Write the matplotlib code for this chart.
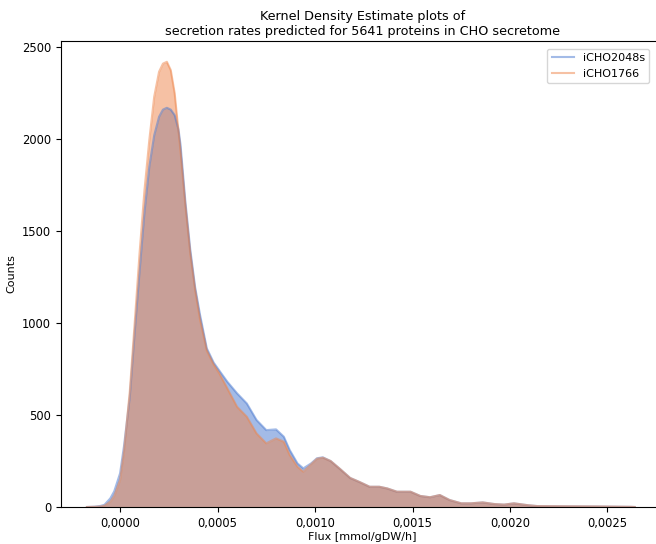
import numpy as np
import matplotlib.pyplot as plt
from matplotlib.ticker import FuncFormatter

# KDE curves (flux in mmol/gDW/h, density in counts)
flux = [-0.00017, -0.00013, -0.00010, -0.00008, -0.00005, -0.00003, 0.0, 0.00002,
        0.00005, 0.000075, 0.00010, 0.000125, 0.00015, 0.000175, 0.00020, 0.00022,
        0.00024, 0.00026, 0.00028, 0.00030, 0.00031, 0.000335, 0.00036, 0.000385,
        0.00041, 0.000445, 0.00048, 0.00051, 0.00055, 0.00060, 0.00065, 0.00070,
        0.00075, 0.00080, 0.00084, 0.00087, 0.00091, 0.00094, 0.00098, 0.00101,
        0.00104, 0.00108, 0.00113, 0.00118, 0.00123, 0.00128, 0.00133, 0.00137,
        0.00142, 0.00149, 0.00154, 0.00159, 0.00164, 0.00169, 0.00175, 0.00180,
        0.00186, 0.00192, 0.00197, 0.00202, 0.00209, 0.00214, 0.00228, 0.00245,
        0.00262, 0.00264]

kde_2048s = [0, 2, 6, 12, 47, 85, 183, 330,
             600, 950, 1280, 1600, 1850, 2020, 2121, 2160,
             2170, 2160, 2130, 2050, 1970, 1660, 1400, 1195,
             1045, 862, 785, 740, 681, 618, 563, 473,
             418, 422, 382, 310, 237, 210, 237, 265,
             270, 250, 205, 158, 135, 110, 110, 101,
             83, 83, 60, 53, 65, 38, 20, 20,
             25, 16, 13, 20, 10, 5, 4, 3,
             1, 0]

kde_1766 = [0, 1, 3, 7, 29, 60, 147, 300,
            630, 1000, 1380, 1720, 1995, 2230, 2366, 2410,
            2420, 2375, 2250, 2040, 1935, 1640, 1380, 1180,
            1020, 850, 775, 725, 645, 545, 491, 400,
            346, 373, 355, 283, 219, 192, 232, 262,
            268, 250, 205, 158, 135, 110, 110, 101,
            83, 83, 60, 53, 65, 38, 20, 20,
            25, 16, 13, 20, 10, 5, 4, 3,
            1, 0]

labels = ['iCHO2048s', 'iCHO1766']
colors = ['#4878d0', '#ee854a']

fig = plt.figure(figsize=(6.56, 5.44), dpi=100)
ax = fig.add_axes([61/656, 37/544, 603/656, 466/544])

for y, lab, c in zip([kde_2048s, kde_1766], labels, colors):
    ax.fill_between(flux, y, 0, color=c, alpha=0.5, linewidth=0)
    ax.plot(flux, y, color=c, alpha=0.5, lw=1.5, label=lab)

ax.set_xlim(-0.000303, 0.002790)
ax.set_ylim(0, 2533)
ax.set_xticks([0, 0.0005, 0.001, 0.0015, 0.002, 0.0025])
ax.xaxis.set_major_formatter(FuncFormatter(lambda v, p: f'{v:.4f}'.replace('.', ',')))
ax.tick_params(labelsize=8.3)

ax.set_xlabel('Flux [mmol/gDW/h]', fontsize=8, labelpad=2)
ax.set_ylabel('Counts', fontsize=8)
ax.set_title('Kernel Density Estimate plots of\nsecretion rates predicted for 5641 proteins in CHO secretome',
             fontsize=9.2, pad=4)

leg = ax.legend(loc='upper right', fontsize=8, bbox_to_anchor=(0.985, 0.995))

fig.savefig('out.png', dpi=100)
